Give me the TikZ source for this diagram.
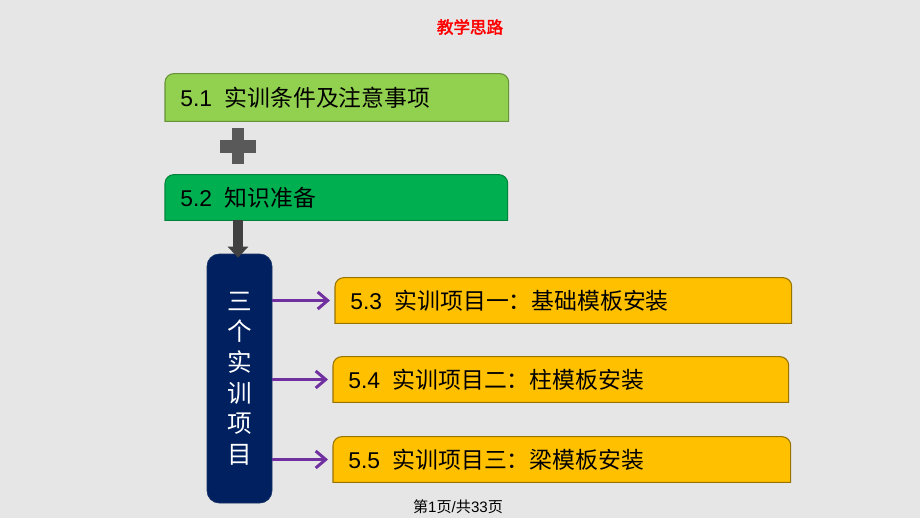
\documentclass[tikz,border=0pt]{standalone}
\usepackage{fontspec}
\setmainfont{Liberation Sans}
\newfontfamily\cjk{Noto Sans CJK SC}
\newfontfamily\cjkbold[FakeBold=2.5]{Noto Sans CJK SC}
\usepackage{xcolor}
\usetikzlibrary{arrows.meta,backgrounds}

\definecolor{slidebg}{HTML}{E7E6E6}
\definecolor{lightgreen}{HTML}{92D050}
\definecolor{darkgreen}{HTML}{00B050}
\definecolor{gold}{HTML}{FFC000}
\definecolor{navy}{HTML}{002060}
\definecolor{violet}{HTML}{7030A0}
\definecolor{plusgray}{HTML}{595959}
\definecolor{arrowgray}{HTML}{404040}

\newcommand{\zh}[1]{{\cjk #1}}
% box with rounded top corners only, drawn behind a named node
\newcommand{\tabfill}[3]{%
  \filldraw[fill=#2, draw=#3, line width=0.6pt]
    (#1.south west) -- ([yshift=-5pt]#1.north west)
    arc[start angle=180, end angle=90, radius=5pt]
    -- ([xshift=-5pt]#1.north east)
    arc[start angle=90, end angle=0, radius=5pt]
    -- (#1.south east) -- cycle;}

\tikzset{
  tabbox/.style={anchor=west, inner xsep=0.3cm, align=left, minimum height=0.9cm,
    font=\fontsize{13}{15}\selectfont},
  projbox/.style={fill=navy, draw=navy!80!gray, rounded corners=7pt,
    minimum width=1.3cm, minimum height=4.98cm, text=white, align=center,
    font=\cjk\fontsize{14}{17.4}\selectfont},
  itemarrow/.style={draw=violet, line width=1.7pt, shorten >=0.1cm,
    -{Straight Barb[length=0.2cm,width=0.34cm,line width=1.7pt]}},
  downarrow/.style={draw=arrowgray, line width=0.2cm,
    -{Triangle[length=0.22cm,width=0.4cm]}}
}

\begin{document}
\begin{tikzpicture}
  \begin{scope}[on background layer]
    \fill[slidebg] (0,0) rectangle (18.4,-10.36);
  \end{scope}
  \useasboundingbox (0,0) rectangle (18.4,-10.36);

  % heading
  \node[text=red, font=\cjkbold\fontsize{9.4}{11}\selectfont] (title) at (9.4,-0.54) {教学思路};

  % preparation part
  \node[tabbox, text width=6.26cm, minimum height=0.94cm] (s1) at (3.30,-1.95)
    {5.1\hspace{0.55em}\zh{实训条件及注意事项}};
  \node[tabbox, text width=6.24cm] (s2) at (3.30,-3.95)
    {5.2\hspace{0.55em}\zh{知识准备}};

  % the plus sign
  \coordinate (plus) at (4.76,-2.92);
  \fill[plusgray] ([xshift=-0.12cm,yshift=-0.36cm]plus) rectangle ([xshift=0.12cm,yshift=0.36cm]plus);
  \fill[plusgray] ([xshift=-0.36cm,yshift=-0.13cm]plus) rectangle ([xshift=0.36cm,yshift=0.13cm]plus);

  % the three projects
  \node[projbox] (proj) at (4.79,-7.57) {三\\个\\实\\训\\项\\目};
  \node[tabbox, text width=8.52cm] (b3) at (6.70,-6.01)
    {5.3\hspace{0.55em}\zh{实训项目一：基础模板安装}};
  \node[tabbox, text width=8.50cm] (b4) at (6.66,-7.59)
    {5.4\hspace{0.55em}\zh{实训项目二：柱模板安装}};
  \node[tabbox, text width=8.54cm] (b5) at (6.66,-9.19)
    {5.5\hspace{0.55em}\zh{实训项目三：梁模板安装}};

  \begin{scope}[on background layer]
    \tabfill{s1}{lightgreen}{lightgreen!70!black}
    \tabfill{s2}{darkgreen}{darkgreen!75!black}
    \tabfill{b3}{gold}{gold!60!black}
    \tabfill{b4}{gold}{gold!60!black}
    \tabfill{b5}{gold}{gold!60!black}
  \end{scope}

  % connectors
  \draw[downarrow] (s2.south -| plus) -- ([yshift=-0.08cm]proj.north -| plus);
  \draw[itemarrow] (proj.east |- b3.west) -- (b3.west);
  \draw[itemarrow] (proj.east |- b4.west) -- (b4.west);
  \draw[itemarrow] (proj.east |- b5.west) -- (b5.west);

  % page number
  \node[font=\fontsize{8.6}{10}\selectfont] (pageno) at (9.16,-10.13)
    {\zh{第}1\zh{页}/\zh{共}33\zh{页}};
\end{tikzpicture}
\end{document}
